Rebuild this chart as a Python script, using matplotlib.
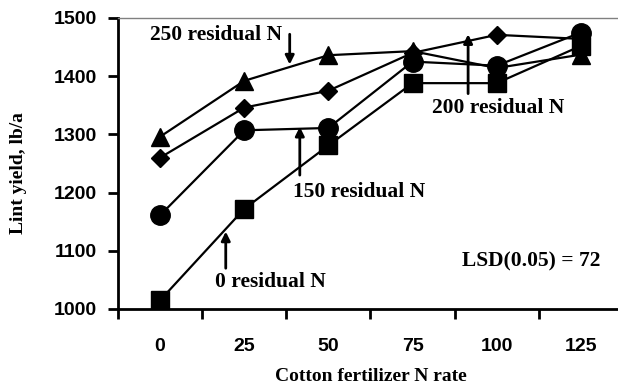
import matplotlib
matplotlib.use("Agg")
import matplotlib.pyplot as plt
import numpy as np

# data
n_rates = ["0", "25", "50", "75", "100", "125"]
yield_0 = [1015, 1172, 1281, 1388, 1388, 1452]
yield_150 = [1161, 1307, 1311, 1425, 1418, 1475]
yield_200 = [1260, 1346, 1375, 1440, 1471, 1464]
yield_250 = [1296, 1392, 1436, 1443, 1414, 1437]
y_ticks = [1000, 1100, 1200, 1300, 1400, 1500]

SERIF = "Liberation Serif"
SANS = "Liberation Sans"

fig = plt.figure(figsize=(6.18, 3.87), dpi=100)
ax = fig.add_axes([0.191, 0.2016, 0.817, 0.752])

x = np.arange(len(n_rates))
series = [
    (yield_0, "s", 12.5),
    (yield_150, "o", 14),
    (yield_200, "D", 9.5),
    (yield_250, "^", 12.5),
]
for vals, marker, ms in series:
    ax.plot(x, vals, color="black", lw=1.6, marker=marker, ms=ms,
            markerfacecolor="black", markeredgecolor="black")

ax.set_xlim(-0.5, len(n_rates) - 0.5)
ax.set_ylim(1000, 1500)

# category labels centred, tick marks between categories
ax.set_xticks(x)
ax.set_xticklabels(n_rates)
ax.set_xticks(np.arange(len(n_rates) + 1) - 0.5, minor=True)
ax.tick_params(axis="x", which="major", length=0, pad=21)
ax.tick_params(axis="x", which="minor", length=7, width=2, direction="out")
ax.set_yticks(y_ticks)
ax.tick_params(axis="y", length=7, width=2, direction="out", pad=8)
for lab in ax.get_xticklabels() + ax.get_yticklabels():
    lab.set_fontproperties({"family": SANS, "weight": "bold", "size": 14})

for side in ["left", "bottom"]:
    ax.spines[side].set_linewidth(2)
for side in ["top", "right"]:
    ax.spines[side].set_color("#808080")
    ax.spines[side].set_linewidth(1)

ax.set_ylabel("Lint yield, lb/a", family=SERIF, fontweight="bold", fontsize=14)
ax.yaxis.set_label_coords(-0.18, 0.467)
ax.set_xlabel("Cotton fertilizer N rate", family=SERIF, fontweight="bold", fontsize=14)
ax.xaxis.set_label_coords(0.5, -0.203)

arrow = dict(arrowstyle="-|>", color="black", lw=2, mutation_scale=13, shrinkA=0, shrinkB=0)
txt = dict(family=SERIF, fontweight="bold", fontsize=15.5, va="center")

# 250 residual N
ax.text(1.45, 1470, "250 residual N", ha="right", **txt)
ax.annotate("", xy=(1.54, 1420), xytext=(1.54, 1472), arrowprops=arrow)
# 150 residual N
ax.text(1.58, 1201, "150 residual N", ha="left", **txt)
ax.annotate("", xy=(1.66, 1313), xytext=(1.66, 1230), arrowprops=arrow)
# 200 residual N
ax.text(3.23, 1345, "200 residual N", ha="left", **txt)
ax.annotate("", xy=(3.66, 1472), xytext=(3.66, 1370), arrowprops=arrow)
# 0 residual N
ax.text(0.65, 1046, "0 residual N", ha="left", **txt)
ax.annotate("", xy=(0.78, 1133), xytext=(0.78, 1070), arrowprops=arrow)

ax.text(3.59, 1081, "LSD(0.05) = 72", ha="left", **txt)

fig.savefig("out.png", dpi=100)
